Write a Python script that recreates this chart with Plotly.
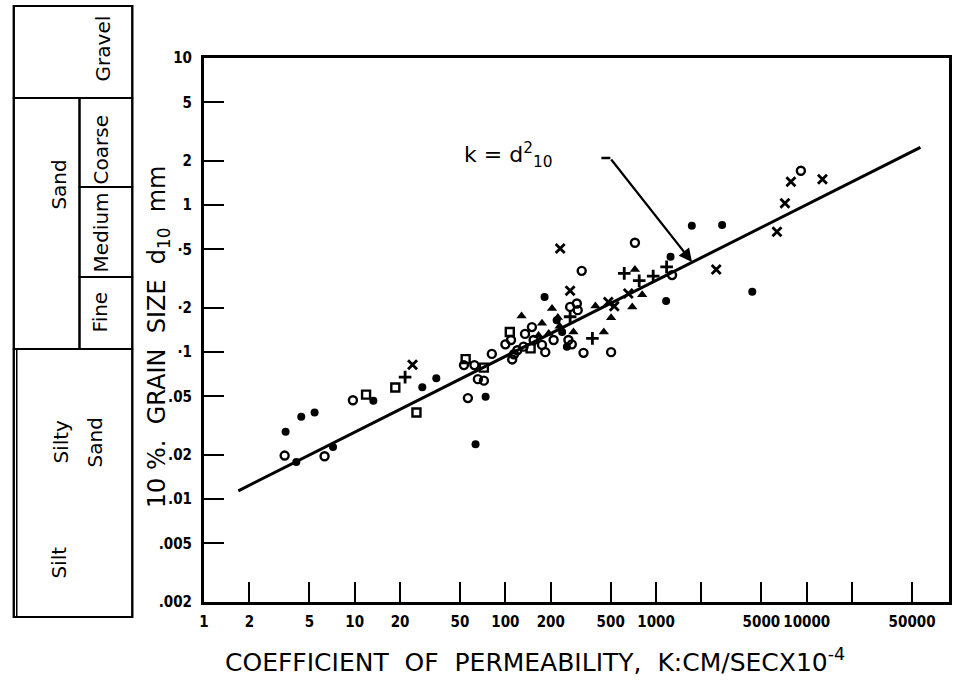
import plotly.graph_objects as go

# ---------------- data ----------------
x_tick_vals = [1, 2, 5, 10, 20, 50, 100, 200, 500, 1000, 2000, 5000, 10000, 20000, 50000]
x_tick_text = ["1", "2", "5", "10", "20", "50", "100", "200", "500", "1000", "", "5000", "10000", "", "50000"]
y_tick_vals = [10, 5, 2, 1, 0.5, 0.2, 0.1, 0.05, 0.02, 0.01, 0.005, 0.002]
y_tick_text = ["10", "5", "2", "1", "·5", "·2", "·1", ".05", ".02", ".01", ".005", ".002"]

filled_K = [3.48, 4.42, 5.42, 4.10, 7.18, 13.3, 28.1, 34.8, 73.9, 63.4, 182, 1727, 2743, 1248, 1166, 4350, 219, 238, 256]
filled_d = [0.0287, 0.0363, 0.0388, 0.0179, 0.0226, 0.0468, 0.0578, 0.0664, 0.0497, 0.0236, 0.237, 0.722, 0.731, 0.445, 0.223, 0.257, 0.165, 0.137, 0.109]

open_K = [3.43, 6.31, 9.73, 56.4, 53.1, 62.3, 65.7, 72.0, 81.3, 100, 109, 114, 120, 135, 150, 132, 154, 175, 184, 209, 262, 276, 269, 298, 302, 321, 724, 1277, 330, 503, 9141, 111]
open_d = [0.0198, 0.0196, 0.0471, 0.0487, 0.0816, 0.0816, 0.0655, 0.0640, 0.0973, 0.113, 0.121, 0.0968, 0.103, 0.133, 0.148, 0.109, 0.121, 0.112, 0.100, 0.121, 0.121, 0.113, 0.203, 0.214, 0.193, 0.357, 0.554, 0.334, 0.0989, 0.100, 1.71, 0.0892]

square_K = [11.9, 18.6, 25.7, 54.5, 72.0, 107, 147]
square_d = [0.0514, 0.0575, 0.0389, 0.0896, 0.0785, 0.137, 0.106]

cross_K = [24.2, 231, 269, 482, 528, 654, 2507, 6343, 7165, 7850, 12710]
cross_d = [0.0822, 0.507, 0.261, 0.219, 0.205, 0.250, 0.365, 0.658, 1.03, 1.44, 1.50]

plus_K = [21.6, 615, 773, 957, 1175, 378, 269]
plus_d = [0.0676, 0.343, 0.306, 0.329, 0.380, 0.124, 0.174]

tri_K = [128, 175, 204, 194, 223, 166, 283, 396, 503, 450, 695, 724, 809, 229]
tri_d = [0.176, 0.157, 0.198, 0.134, 0.172, 0.130, 0.137, 0.206, 0.171, 0.137, 0.203, 0.364, 0.246, 0.150]

line_K = [1.69, 56800]
line_d = [0.0114, 2.47]

# ---------------- figure ----------------
W, H = 957, 694
L, R, T, B = 204, 5, 58, 92
PW, PH = W - L - R, H - T - B


def px(x):
    return (x - L) / PW


def py(y):
    return (H - B - y) / PH


FONT = "DejaVu Sans"
FONT_C = "DejaVu Sans Condensed"
fig = go.Figure()

fig.add_trace(go.Scatter(x=line_K, y=line_d, mode="lines",
                         line=dict(color="black", width=3),
                         showlegend=False, hoverinfo="skip"))


def add(K, d, symbol, size, lw):
    fig.add_trace(go.Scatter(
        x=K, y=d, mode="markers",
        marker=dict(symbol=symbol, size=size, color="black",
                    line=dict(color="black", width=lw)),
        showlegend=False, hoverinfo="skip"))


add(open_K, open_d, "circle-open", 8, 2.4)
add(square_K, square_d, "square-open", 8, 2.4)
add(filled_K, filled_d, "circle", 8, 0)
add(tri_K, tri_d, "triangle-up", 9, 0)
add(cross_K, cross_d, "x-thin-open", 9, 2.8)
add(plus_K, plus_d, "cross-thin-open", 9, 2.8)

axis_common = dict(
    type="log", ticks="inside", ticklen=20, tickwidth=2, tickcolor="black",
    showline=True, linewidth=3, linecolor="black", mirror=True,
    showgrid=False, zeroline=False, tickangle=0,
    tickfont=dict(family=FONT_C, size=15, color="black", weight="bold"),
)

fig.update_layout(
    width=W, height=H,
    margin=dict(l=L, r=R, t=T, b=B),
    paper_bgcolor="white", plot_bgcolor="white",
    xaxis=dict(range=[0, 4.944], tickvals=x_tick_vals, ticktext=x_tick_text,
               ticklabelstandoff=4, **axis_common),
    yaxis=dict(range=[-2.699, 1.0], tickvals=y_tick_vals, ticktext=y_tick_text,
               ticklabelstandoff=6, **axis_common),
)

shapes = []
annotations = []

# left classification table
lw = 2
tbl_x0, tbl_x1, tbl_y0, tbl_y1 = 13, 132, 6, 617
div_x = 79
rects = [
    (tbl_x0, tbl_y0, tbl_x1, tbl_y1),
    (tbl_x0, tbl_y0, tbl_x1, 98),
    (tbl_x0, 98, div_x, 349),
    (div_x, 98, tbl_x1, 187),
    (div_x, 187, tbl_x1, 277),
    (div_x, 277, tbl_x1, 349),
    (tbl_x0, 349, tbl_x1, tbl_y1),
]
for x0, y0, x1, y1 in rects:
    shapes.append(dict(type="rect", xref="paper", yref="paper",
                       x0=px(x0), x1=px(x1), y0=py(y0), y1=py(y1),
                       line=dict(color="black", width=lw)))
# doubled left edge of the silt box
shapes.append(dict(type="line", xref="paper", yref="paper",
                   x0=px(16), x1=px(16), y0=py(349), y1=py(tbl_y1),
                   line=dict(color="black", width=1.5)))

table_labels = [
    ("Gravel", 103, 48),
    ("Sand", 58, 185),
    ("Coarse", 101, 150),
    ("Medium", 101, 232),
    ("Fine", 100, 312),
    ("Silty", 60, 442),
    ("Sand", 95, 442),
    ("Silt", 58, 563),
]
for txt, x, y in table_labels:
    annotations.append(dict(text=txt, xref="paper", yref="paper", x=px(x), y=py(y),
                            xanchor="center", yanchor="middle", textangle=-90,
                            showarrow=False,
                            font=dict(family=FONT, size=20, color="black")))

# axis titles
annotations.append(dict(text="10&nbsp;%.&nbsp;&nbsp;GRAIN&nbsp;&nbsp;SIZE&nbsp;&nbsp;d<sub>10</sub>&nbsp;&nbsp;mm",
                        xref="paper", yref="paper",
                        x=px(158), y=py(337), xanchor="center", yanchor="middle",
                        textangle=-90, showarrow=False,
                        font=dict(family=FONT, size=24, color="black")))
annotations.append(dict(text="COEFFICIENT&nbsp; OF&nbsp; PERMEABILITY,&nbsp; K:CM/SECX10<sup>-4</sup>",
                        xref="paper", yref="paper",
                        x=px(536), y=py(660), xanchor="center", yanchor="middle",
                        showarrow=False,
                        font=dict(family=FONT, size=25, color="black")))

# k = d^2_10 callout
annotations.append(dict(text="k = d<sup>2</sup><sub>10</sub>", xref="paper", yref="paper",
                        x=px(556), y=py(155), xanchor="right", yanchor="middle",
                        showarrow=False,
                        font=dict(family=FONT, size=22, color="black")))
shapes.append(dict(type="line", xref="paper", yref="paper",
                   x0=px(603), x1=px(612), y0=py(158), y1=py(158),
                   line=dict(color="black", width=2.5)))
annotations.append(dict(text="", xref="paper", yref="paper",
                        x=px(694), y=py(262), ax=612 - 694, ay=158 - 262,
                        axref="pixel", ayref="pixel",
                        showarrow=True, arrowhead=2, arrowsize=1.2, arrowwidth=2.2,
                        arrowcolor="black"))

fig.update_layout(shapes=shapes, annotations=annotations)

fig.write_html("out.html")
